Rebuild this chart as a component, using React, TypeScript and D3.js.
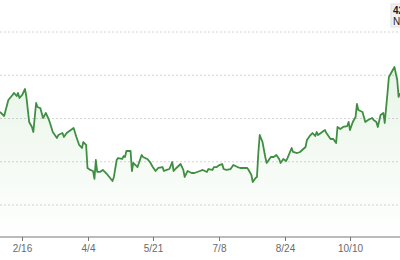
import React from "react";
import * as d3 from "d3";

const dates: string[] = [
  "2023-01-31","2023-02-03","2023-02-06","2023-02-09","2023-02-10","2023-02-12","2023-02-13","2023-02-14","2023-02-16","2023-02-18",
  "2023-02-19","2023-02-21","2023-02-23","2023-02-24","2023-02-26","2023-02-27","2023-03-01","2023-03-03","2023-03-05","2023-03-07",
  "2023-03-08","2023-03-10","2023-03-13","2023-03-14","2023-03-17","2023-03-18","2023-03-20","2023-03-25","2023-03-27","2023-03-29",
  "2023-03-31","2023-04-01","2023-04-03","2023-04-04","2023-04-06","2023-04-08","2023-04-09","2023-04-10","2023-04-11","2023-04-13",
  "2023-04-15","2023-04-18","2023-04-22","2023-04-23","2023-04-25","2023-04-26","2023-04-29","2023-04-30","2023-05-01","2023-05-02",
  "2023-05-05","2023-05-06","2023-05-07","2023-05-10","2023-05-13","2023-05-14","2023-05-17","2023-05-19","2023-05-21","2023-05-23",
  "2023-05-25","2023-05-28","2023-05-29","2023-05-31","2023-06-02","2023-06-04","2023-06-05","2023-06-07","2023-06-10","2023-06-12",
  "2023-06-13","2023-06-15","2023-06-18","2023-06-20","2023-06-24","2023-06-26","2023-06-29","2023-06-30","2023-07-03","2023-07-04",
  "2023-07-06","2023-07-08","2023-07-10","2023-07-11","2023-07-13","2023-07-16","2023-07-18","2023-07-21","2023-07-23","2023-07-25",
  "2023-07-28","2023-07-29","2023-07-31","2023-08-01","2023-08-03","2023-08-04","2023-08-05","2023-08-06","2023-08-08","2023-08-10",
  "2023-08-11","2023-08-13","2023-08-14","2023-08-16","2023-08-18","2023-08-20","2023-08-21","2023-08-23","2023-08-25","2023-08-26",
  "2023-08-29","2023-08-30","2023-09-02","2023-09-04","2023-09-08","2023-09-09","2023-09-11","2023-09-13","2023-09-15","2023-09-16",
  "2023-09-17","2023-09-20","2023-09-22","2023-09-23","2023-09-26","2023-09-28","2023-09-30","2023-10-01","2023-10-03","2023-10-05",
  "2023-10-08","2023-10-09","2023-10-10","2023-10-12","2023-10-14","2023-10-15","2023-10-16","2023-10-19","2023-10-21","2023-10-23",
  "2023-10-26","2023-10-27","2023-10-29","2023-10-30","2023-11-01","2023-11-03","2023-11-04","2023-11-06","2023-11-07","2023-11-09",
  "2023-11-11","2023-11-13","2023-11-14","2023-11-15",
];

const prices: number[] = [
  40.75,40.29,42.14,42.72,42.95,42.6,42.95,42.37,42.72,43.41,
  42.49,39.6,39.02,38.44,41.79,41.33,41.21,40.06,40.64,39.94,
  39.48,38.44,37.75,38.09,38.32,37.86,38.32,38.9,37.86,36.94,
  36.59,37.28,36.94,34.28,34.05,33.93,33.01,35.2,33.82,33.82,
  34.05,33.58,32.77,33.24,35.2,35.43,35.32,35.66,35.55,36.24,
  36.24,33.93,34.86,34.39,35.78,35.55,35.32,34.97,34.39,33.93,
  34.28,34.39,33.93,34.05,34.16,34.97,33.93,34.28,34.74,34.05,
  33.24,33.93,33.7,33.7,33.93,34.05,33.82,34.16,34.05,34.39,
  34.39,34.62,34.74,34.16,34.05,34.16,34.62,34.39,34.28,34.28,
  34.28,34.05,33.47,32.66,33.12,33.24,36.01,38.09,37.28,35.55,
  34.86,35.32,35.55,35.55,35.78,35.32,34.86,35.32,35.09,35.43,
  36.59,36.13,36.01,36.13,36.71,37.51,37.98,38.32,37.98,38.44,
  38.09,38.44,38.67,38.32,37.63,37.63,37.17,39.02,38.79,39.02,
  39.13,39.6,38.67,39.6,40.17,41.68,40.98,40.75,39.6,39.83,
  40.06,39.83,39.6,39.02,40.4,40.64,39.48,42.95,44.8,45.38,
  45.95,44.45,42.49,42.95,
];

const gridValues: number[] = [30, 35, 40, 45, 50];
const tickDates: string[] = ["2023-02-16", "2023-04-04", "2023-05-21", "2023-07-08", "2023-08-24", "2023-10-10"];

const W = 400;
const H = 260;
const FONT = "'Liberation Sans', Arial, sans-serif";

export default function App() {
  const parse = d3.timeParse("%Y-%m-%d");
  const data = dates.map((d, i) => ({ date: parse(d) as Date, value: prices[i] }));

  const x = d3
    .scaleTime()
    .domain([parse("2023-01-31") as Date, parse("2023-11-15") as Date])
    .range([0, 400]);
  const y = d3.scaleLinear().domain([30, 50]).range([205, 32]);
  const axisY = 237;

  const line = d3
    .line<{ date: Date; value: number }>()
    .x((d) => x(d.date))
    .y((d) => y(d.value));
  const area = d3
    .area<{ date: Date; value: number }>()
    .x((d) => x(d.date))
    .y0(axisY)
    .y1((d) => y(d.value));

  const fmt = d3.timeFormat("%-m/%-d");
  const last = data[data.length - 1];
  const tipFmt = d3.timeFormat("%b %-d");

  return (
    <div style={{ position: "fixed", left: 0, top: 0, width: W, height: H, background: "#fff" }}>
      <svg width={W} height={H} style={{ display: "block", overflow: "hidden" }}>
        <defs>
          <linearGradient id="fillGrad" x1="0" y1="0" x2="0" y2="1">
            <stop offset="0%" stopColor="#6fbf6a" stopOpacity={0.16} />
            <stop offset="100%" stopColor="#6fbf6a" stopOpacity={0.0} />
          </linearGradient>
        </defs>
        {gridValues.map((g) => (
          <line
            key={g}
            x1={0}
            x2={W}
            y1={y(g)}
            y2={y(g)}
            stroke="#d4d4d4"
            strokeWidth={1}
            strokeDasharray="2,2"
          />
        ))}
        <path d={area(data) || ""} fill="url(#fillGrad)" />
        <path
          d={line(data) || ""}
          fill="none"
          stroke="#3f8f42"
          strokeWidth={1.8}
          strokeLinejoin="round"
        />
        <line x1={0} x2={W} y1={axisY} y2={axisY} stroke="#777" strokeWidth={1} />
        {tickDates.map((t) => {
          const d = parse(t) as Date;
          const tx = Math.round(x(d)) + 0.5;
          return (
            <g key={t}>
              <line x1={tx} x2={tx} y1={axisY} y2={axisY + 4} stroke="#777" strokeWidth={1} />
              <text
                x={tx}
                y={axisY + 15}
                textAnchor="middle"
                fontFamily={FONT}
                fontSize={10}
                fill="#6a6a6a"
              >
                {fmt(d)}
              </text>
            </g>
          );
        })}
        <g>
          <rect x={391} y={4} width={60} height={23} fill="#f0f0f0" stroke="#e2e2e2" />
          <text x={393} y={14} fontFamily={FONT} fontSize={10} fontWeight="bold" fill="#222">
            {last.value.toFixed(2)}
          </text>
          <text x={393} y={24.5} fontFamily={FONT} fontSize={10} fill="#222">
            {tipFmt(last.date)}
          </text>
        </g>
      </svg>
    </div>
  );
}
